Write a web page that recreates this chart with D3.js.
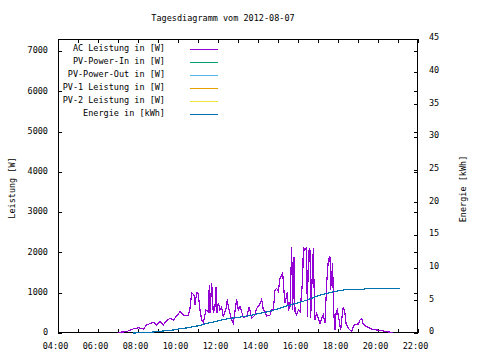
<!DOCTYPE html>
<html><head><meta charset="utf-8">
<script src="https://cdn.jsdelivr.net/npm/d3@7"></script>
<style>
body{margin:0;background:#fff}
svg{display:block}
</style></head><body><svg id="c" width="480" height="360"></svg>
<script>
const titleText = "Tagesdiagramm vom 2012-08-07";
const legendLabels = ["AC Leistung in [W]","PV-Power-In in [W]","PV-Power-Out in [W]","PV-1 Leistung in [W]","PV-2 Leistung in [W]","Energie in [kWh]"];
const seriesColors = ["#9400d3","#009e73","#56b4e9","#e69f00","#f0e442","#0072b2"];
const xTickLabels = ["04:00","06:00","08:00","10:00","12:00","14:00","16:00","18:00","20:00","22:00"];
const y1Ticks = [0,1000,2000,3000,4000,5000,6000,7000];
const y2Ticks = [0,5,10,15,20,25,30,35,40,45];
const y1Label = "Leistung [W]";
const y2Label = "Energie [kWh]";

const acTime = ["07:01","07:26","07:41","08:01","08:16","08:26","08:46","08:56","09:06","09:16","09:26","09:36","09:46","09:56","10:06","10:11","10:21","10:31","10:36","10:41","10:48","10:51","10:56","11:01","11:04","11:06","11:11","11:16","11:24","11:31","11:34","11:36","11:41","11:46","11:51","11:54","11:57","12:01","12:06","12:11","12:16","12:24","12:28","12:31","12:41","12:46","12:56","13:01","13:06","13:16","13:26","13:34","13:41","13:51","13:56","14:04","14:11","14:16","14:21","14:26","14:36","14:41","14:46","14:51","14:56","15:01",
"15:06","15:14","15:18","15:21","15:28","15:31","15:36","15:41","15:44","15:46","15:48","15:51","15:56","16:01","16:06","16:14","16:16","16:21","16:26","16:28","16:31","16:34","16:36","16:38","16:41","16:46","16:48","16:51","16:56","17:01","17:06","17:11","17:16","17:21","17:26","17:31","17:36","17:38","17:41","17:44","17:46","17:48","17:51","17:54","17:58","18:04","18:08","18:11","18:16","18:21","18:24","18:31","18:41","18:46","18:51","19:01","19:06","19:11","19:16","19:26","19:41","19:56","20:11","20:26","20:46"];
const acWatt = [17,33,91,132,99,199,265,199,281,199,306,364,323,422,530,488,422,447,613,1002,944,695,1002,985,695,571,323,257,571,530,1192,488,1250,488,654,1151,488,753,571,637,406,613,836,650,323,240,836,571,654,389,406,654,364,447,613,695,836,571,530,422,447,571,571,1068,1109,1026,
1358,1498,1026,736,1026,571,654,2140,571,1316,1896,530,447,571,530,1333,2140,2057,2140,406,1896,2100,2057,364,1068,2100,1233,323,488,364,240,364,447,240,1233,1813,1896,1068,1400,1730,819,406,75,488,571,281,75,323,654,488,240,116,33,157,215,224,323,364,215,157,99,75,58,33,8];

const energyTime = ["07:45","08:15","08:45","09:15","09:45","10:00","10:30","11:00","11:30","12:00","12:30","13:00","13:30","14:00","14:30","15:00","15:30","16:00","16:30","17:00","17:30","18:00","18:30","19:15","19:30","21:06"];
const energyKWh = [0,0.05,0.15,0.3,0.45,0.6,0.8,1.1,1.5,1.85,2.2,2.4,2.6,2.95,3.25,3.7,4.2,4.6,5.1,5.7,6.1,6.45,6.7,6.7,6.85,6.85];

// series without visible data in the reference
const pvInTime = [], pvInWatt = [];
const pvOutTime = [], pvOutWatt = [];
const pv1Time = [], pv1Watt = [];
const pv2Time = [], pv2Watt = [];

const FONT = "'DejaVu Sans Mono', 'Liberation Mono', monospace";
const FS = "8.5px";
const L = 58, R = 418, T = 39, B = 333;
const parse = d3.timeParse("%H:%M");
const svg = d3.select("#c");
svg.append("rect").attr("width",480).attr("height",360).attr("fill","#fff");

const x = d3.scaleTime().domain([parse("04:00"), parse("22:00")]).range([L, R]);
const y1 = d3.scaleLinear().domain([0, 7300]).range([B, T]);
const y2 = d3.scaleLinear().domain([0, 45]).range([B, T]);
const hours = d3.timeHour.every(1).range(parse("04:00"), d3.timeMinute.offset(parse("22:00"),1));
const fmt = d3.timeFormat("%H:%M");

function styleAxis(g){
  g.select(".domain").remove();
  g.selectAll("line").attr("stroke","#000").attr("shape-rendering","crispEdges");
  g.attr("font-family", FONT).attr("font-size", FS);
  g.selectAll("text").attr("fill","#000");
}

// bottom x axis with labels
const xb = svg.append("g").attr("transform",`translate(0,${B})`)
  .call(d3.axisBottom(x).tickValues(hours).tickSize(-4).tickPadding(10)
    .tickFormat(d => xTickLabels.includes(fmt(d)) ? fmt(d) : ""));
styleAxis(xb);
xb.selectAll("text").attr("dx", -3);
// top mirror
styleAxis(svg.append("g").attr("transform",`translate(0,${T})`)
  .call(d3.axisTop(x).tickValues(hours).tickSize(-4).tickFormat("")));
// left y1
const yl = svg.append("g").attr("transform",`translate(${L},0)`)
  .call(d3.axisLeft(y1).tickValues(y1Ticks).tickSize(-4).tickPadding(10).tickFormat(d3.format("d")));
styleAxis(yl);
yl.selectAll("text").attr("dy","0.2em");
// right mirror of y1
styleAxis(svg.append("g").attr("transform",`translate(${R},0)`)
  .call(d3.axisRight(y1).tickValues(y1Ticks).tickSize(-4).tickFormat("")));
// right y2
const yr = svg.append("g").attr("transform",`translate(${R},0)`)
  .call(d3.axisRight(y2).tickValues(y2Ticks).tickSize(-4).tickPadding(11).tickFormat(d3.format("d")));
styleAxis(yr);
yr.selectAll("text").attr("dy","0.1em");

// border
svg.append("rect").attr("x",L+0.5).attr("y",T+0.5).attr("width",R-L-1).attr("height",B-T-1)
  .attr("fill","none").attr("stroke","#000").attr("shape-rendering","crispEdges");

// title and axis labels
svg.append("text").attr("x",223).attr("y",21).attr("text-anchor","middle")
  .attr("font-family",FONT).attr("font-size",FS).text(titleText);
svg.append("text").attr("transform","translate(15,188) rotate(-90)").attr("text-anchor","middle")
  .attr("font-family",FONT).attr("font-size",FS).text(y1Label);
svg.append("text").attr("transform","translate(466,189) rotate(-90)").attr("text-anchor","middle")
  .attr("font-family",FONT).attr("font-size",FS).text(y2Label);

// series
function zip(ts, vs){ return ts.map((t,i)=>({t:parse(t), v:vs[i]})); }
const series = [
  {data: zip(acTime, acWatt), y: y1},
  {data: zip(pvInTime, pvInWatt), y: y1},
  {data: zip(pvOutTime, pvOutWatt), y: y1},
  {data: zip(pv1Time, pv1Watt), y: y1},
  {data: zip(pv2Time, pv2Watt), y: y1},
  {data: zip(energyTime, energyKWh), y: y2}
];
series.forEach((s,i)=>{
  if(!s.data.length) return;
  const line = d3.line().x(d=>x(d.t)).y(d=>s.y(d.v));
  svg.append("path").datum(s.data).attr("d",line).attr("fill","none")
    .attr("stroke",seriesColors[i]).attr("stroke-width",1.2).attr("shape-rendering","crispEdges");
});

// legend
const lg = svg.append("g");
legendLabels.forEach((lab,i)=>{
  const yy = 49 + i*13;
  lg.append("text").attr("x",165).attr("y",yy+1.5).attr("text-anchor","end")
    .attr("font-family",FONT).attr("font-size",FS).text(lab);
  lg.append("line").attr("x1",190).attr("x2",218).attr("y1",yy+0.5).attr("y2",yy+0.5)
    .attr("stroke",seriesColors[i]).attr("stroke-width",1).attr("shape-rendering","crispEdges");
});
</script></body></html>
